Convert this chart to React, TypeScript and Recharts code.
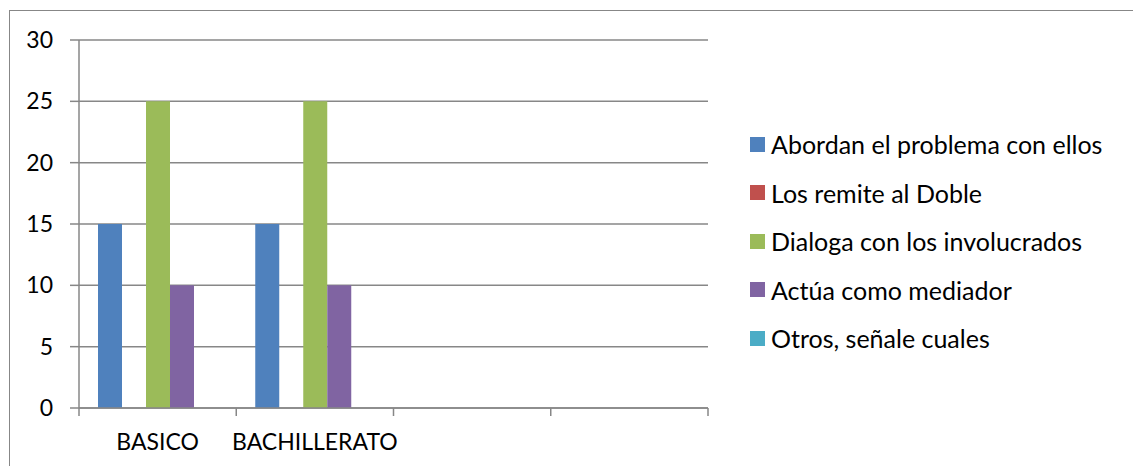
import React from 'react';
import { BarChart, Bar, XAxis, YAxis, CartesianGrid } from 'recharts';

const categories = ['BASICO', 'BACHILLERATO', '', ''];
const abordan = [15, 15, null, null];
const remite = [0, 0, null, null];
const dialoga = [25, 25, null, null];
const actua = [10, 10, null, null];
const otros = [0, 0, null, null];
const yTicks = [0, 5, 10, 15, 20, 25, 30];

const seriesNames = [
  'Abordan el problema con ellos',
  'Los remite al Doble',
  'Dialoga con los involucrados',
  'Actúa como mediador',
  'Otros, señale cuales',
];
const seriesColors = ['#4F81BD', '#C0504D', '#9BBB59', '#8064A2', '#4BACC6'];
const seriesValues = [abordan, remite, dialoga, actua, otros];
const seriesKeys = ['s0', 's1', 's2', 's3', 's4'];

const data = categories.map((c, i) => {
  const row: any = { cat: c };
  seriesKeys.forEach((k, j) => {
    row[k] = seriesValues[j][i];
  });
  return row;
});

const FONT = 'Lato, "Open Sans", sans-serif';
const GRID = '#878787';

const XTick = (props: any) => {
  const { x, y, payload, index, visibleTicksCount } = props;
  const off = payload.offset || 0;
  const last = index === (visibleTicksCount ?? categories.length) - 1;
  const ay = y - 8;
  return (
    <g>
      <line x1={x - off} x2={x - off} y1={ay} y2={ay + 8} stroke={GRID} strokeWidth={1.5} />
      {last && <line x1={x + off} x2={x + off} y1={ay} y2={ay + 8} stroke={GRID} strokeWidth={1.5} />}
      <text x={x} y={ay + 26} dy="0.71em" textAnchor="middle" fontFamily={FONT} fontSize={23} fill="#000">
        {payload.value}
      </text>
    </g>
  );
};

const LegendBox = () => (
  <div style={{ position: 'absolute', left: 750, top: 120, fontFamily: FONT, fontSize: 25, color: '#000' }}>
    {seriesNames.map((n, i) => (
      <div key={n} style={{ height: 48.5, display: 'flex', alignItems: 'center', whiteSpace: 'nowrap' }}>
        <span style={{ display: 'inline-block', width: 15, height: 15, background: seriesColors[i], marginRight: 6 }} />
        <span>{n}</span>
      </div>
    ))}
  </div>
);

export default function App() {
  return (
    <div style={{ position: 'absolute', left: 0, top: 0, width: 1133, height: 466, overflow: 'hidden', background: '#fff' }}>
      <div style={{ position: 'absolute', left: 9, top: 10, width: 1200, height: 500, borderLeft: `1.5px solid ${GRID}`, borderTop: `1.5px solid ${GRID}` }} />
      <div style={{ position: 'absolute', left: 0, top: 0 }}>
        <BarChart
          width={1133}
          height={466}
          data={data}
          margin={{ top: 40, right: 425, bottom: 0, left: 0 }}
          barGap={0}
        >
          <CartesianGrid horizontal vertical={false} stroke={GRID} strokeWidth={1.5} strokeDasharray="" />
          <XAxis
            dataKey="cat"
            axisLine={{ stroke: GRID, strokeWidth: 1.5 }}
            tickLine={false}
            tick={<XTick />}
            interval={0}
            height={58}
          />
          <YAxis
            domain={[0, 30]}
            ticks={yTicks}
            width={79}
            axisLine={{ stroke: GRID, strokeWidth: 1.5 }}
            tickLine={{ stroke: GRID, strokeWidth: 1.5 }}
            tickSize={9}
            tickMargin={17}
            tick={{ fontFamily: FONT, fontSize: 23, fill: '#000' }}
          />
          {seriesKeys.map((k, i) => (
            <Bar key={k} dataKey={k} name={seriesNames[i]} fill={seriesColors[i]} barSize={24} isAnimationActive={false} />
          ))}
        </BarChart>
      </div>
      <LegendBox />
    </div>
  );
}
